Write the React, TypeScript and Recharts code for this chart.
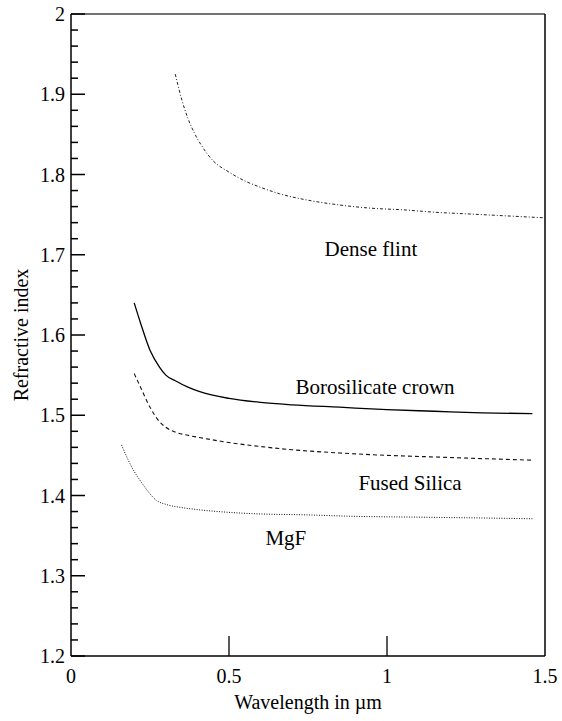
import React from 'react';
import { ComposedChart, Line, Scatter, XAxis, YAxis, ReferenceLine, ReferenceDot } from 'recharts';

// refractive index vs wavelength (µm)
const denseFlintWl = [0.33, 0.35, 0.37, 0.39, 0.41, 0.45, 0.5, 0.55, 0.6, 0.66, 0.75, 0.85, 0.95, 1.05, 1.15, 1.25, 1.35, 1.45, 1.5];
const denseFlintN = [1.925, 1.894, 1.87, 1.852, 1.838, 1.817, 1.803, 1.792, 1.784, 1.776, 1.768, 1.762, 1.758, 1.756, 1.753, 1.751, 1.749, 1.747, 1.746];

const crownWl = [0.2, 0.22, 0.25, 0.28, 0.3, 0.33, 0.37, 0.41, 0.5, 0.6, 0.7, 0.85, 1.0, 1.15, 1.3, 1.46];
const crownN = [1.64, 1.615, 1.581, 1.56, 1.55, 1.543, 1.535, 1.529, 1.521, 1.516, 1.513, 1.51, 1.507, 1.505, 1.503, 1.502];

const silicaWl = [0.2, 0.22, 0.25, 0.28, 0.3, 0.33, 0.37, 0.41, 0.5, 0.6, 0.7, 0.85, 1.0, 1.15, 1.3, 1.46];
const silicaN = [1.552, 1.535, 1.51, 1.492, 1.485, 1.479, 1.475, 1.472, 1.466, 1.461, 1.457, 1.453, 1.45, 1.448, 1.446, 1.444];

const mgfWl = [0.16, 0.18, 0.2, 0.22, 0.25, 0.27, 0.3, 0.35, 0.41, 0.5, 0.6, 0.73, 0.9, 1.1, 1.3, 1.46];
const mgfN = [1.463, 1.445, 1.43, 1.418, 1.402, 1.394, 1.389, 1.385, 1.382, 1.379, 1.377, 1.376, 1.374, 1.373, 1.372, 1.371];

const xTicks = [0, 0.5, 1, 1.5];
const yLabelTicks = [1.2, 1.3, 1.4, 1.5, 1.6, 1.7, 1.8, 1.9, 2];
const yMinorTicks = [
  1.22, 1.24, 1.26, 1.28, 1.32, 1.34, 1.36, 1.38, 1.42, 1.44, 1.46, 1.48,
  1.52, 1.54, 1.56, 1.58, 1.62, 1.64, 1.66, 1.68, 1.72, 1.74, 1.76, 1.78,
  1.82, 1.84, 1.86, 1.88, 1.92, 1.94, 1.96, 1.98,
];

const curveLabels = [
  { name: 'Dense flint', x: 0.949, y: 1.708 },
  { name: 'Borosilicate crown', x: 0.962, y: 1.536 },
  { name: 'Fused Silica', x: 1.073, y: 1.416 },
  { name: 'MgF', x: 0.68, y: 1.348 },
];

const toPoints = (wl: number[], n: number[]) => wl.map((w, i) => ({ w, n: n[i] }));

// tick marks on the left axis, placed through the chart scales
const tickMarks = [
  ...yLabelTicks.map((n) => ({ w: 0, n, major: true })),
  ...yMinorTicks.map((n) => ({ w: 0, n, major: false })),
];

const FONT = '"Liberation Serif", "Times New Roman", serif';

const TickMark = (props: any) => {
  const { cx, cy, payload } = props;
  const len = payload && payload.major ? 14 : 7;
  return <rect x={cx} y={cy - 0.75} width={len} height={1.5} fill="#000" />;
};

const YTick = (props: any) => {
  const { x, y, payload } = props;
  const v = payload.value;
  return (
    <text x={x - 6} y={y} dy={7} textAnchor="end" fontSize={20} fontFamily={FONT} fill="#000">
      {v === 2 ? '2' : v.toFixed(1)}
    </text>
  );
};

const XTick = (props: any) => {
  const { x, y, payload } = props;
  const v = payload.value;
  const inner = v > 0 && v < 1.5;
  return (
    <g>
      {inner && <line x1={x} x2={x} y1={y} y2={y - 20} stroke="#000" strokeWidth={1.3} />}
      <text x={x} y={y} dy={27} textAnchor="middle" fontSize={20} fontFamily={FONT} fill="#000">
        {String(v)}
      </text>
    </g>
  );
};

export default function App() {
  return (
    <div style={{ position: 'absolute', left: 0, top: 0, width: 562, height: 721 }}>
      <ComposedChart width={562} height={721} margin={{ top: 14, right: 17, bottom: 0, left: 0 }}>
        <XAxis
          type="number"
          dataKey="w"
          domain={[0, 1.5]}
          ticks={xTicks}
          interval={0}
          height={65}
          tickSize={0}
          tickMargin={0}
          tick={XTick}
          axisLine={{ stroke: '#000', strokeWidth: 1.5 }}
        />
        <YAxis
          type="number"
          dataKey="n"
          domain={[1.2, 2]}
          ticks={yLabelTicks}
          interval={0}
          width={71}
          tickSize={0}
          tickMargin={0}
          tick={YTick}
          axisLine={{ stroke: '#000', strokeWidth: 1.5 }}
        />
        <ReferenceLine y={2} stroke="#444" strokeWidth={1.5} />
        <ReferenceLine x={1.5} stroke="#000" strokeWidth={1.5} />
        <Scatter data={tickMarks} dataKey="n" shape={TickMark} isAnimationActive={false} />
        <Line
          data={toPoints(denseFlintWl, denseFlintN)}
          dataKey="n"
          type="monotone"
          stroke="#222"
          strokeWidth={1}
          strokeDasharray="3 2 1 2"
          dot={false}
          isAnimationActive={false}
        />
        <Line
          data={toPoints(crownWl, crownN)}
          dataKey="n"
          type="monotone"
          stroke="#000"
          strokeWidth={1.3}
          dot={false}
          isAnimationActive={false}
        />
        <Line
          data={toPoints(silicaWl, silicaN)}
          dataKey="n"
          type="monotone"
          stroke="#111"
          strokeWidth={1.1}
          strokeDasharray="4 3"
          dot={false}
          isAnimationActive={false}
        />
        <Line
          data={toPoints(mgfWl, mgfN)}
          dataKey="n"
          type="monotone"
          stroke="#111"
          strokeWidth={1}
          strokeDasharray="1 1.5"
          dot={false}
          isAnimationActive={false}
        />
        {curveLabels.map((l) => (
          <ReferenceDot
            key={l.name}
            x={l.x}
            y={l.y}
            r={0}
            fill="none"
            stroke="none"
            label={{ value: l.name, position: 'center', fontSize: 21, fontFamily: FONT, fill: '#000' }}
          />
        ))}
      </ComposedChart>
      <div
        style={{
          position: 'absolute',
          left: 71,
          width: 474,
          top: 690,
          textAlign: 'center',
          fontSize: 20,
          fontFamily: FONT,
          color: '#000',
          lineHeight: '24px',
        }}
      >
        Wavelength in µm
      </div>
      <div
        style={{
          position: 'absolute',
          left: 21,
          top: 335,
          transform: 'translate(-50%, -50%) rotate(-90deg)',
          whiteSpace: 'nowrap',
          fontSize: 20,
          fontFamily: FONT,
          color: '#000',
          lineHeight: '24px',
        }}
      >
        Refractive index
      </div>
    </div>
  );
}
